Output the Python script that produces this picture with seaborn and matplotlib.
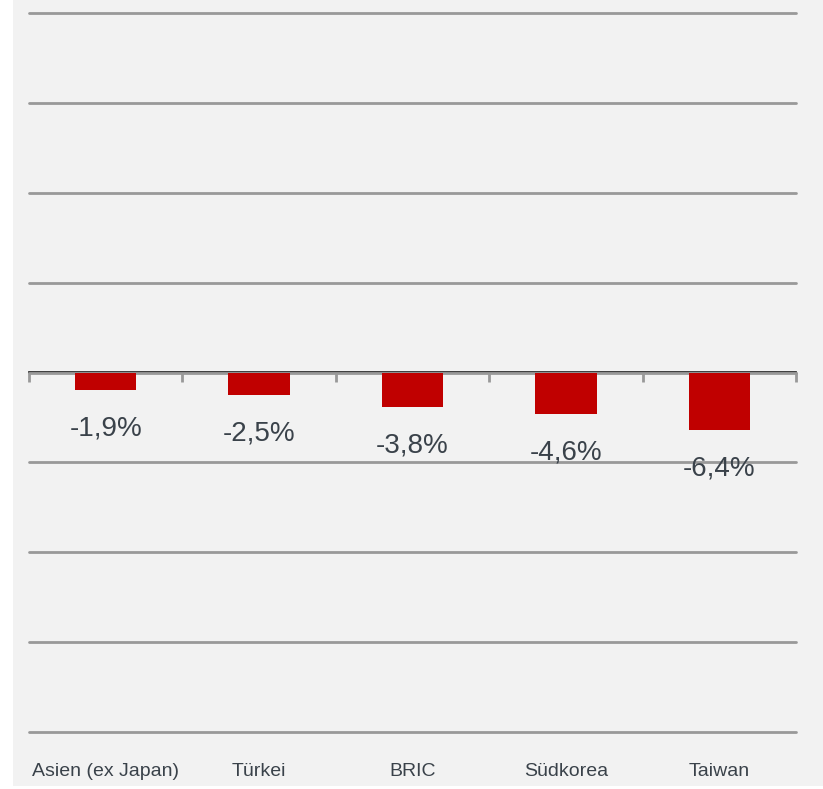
import matplotlib
matplotlib.use("Agg")
import matplotlib.pyplot as plt
import seaborn as sns
import pandas as pd
from matplotlib.patches import Rectangle

categories = ["Asien (ex Japan)", "Türkei", "BRIC", "Südkorea", "Taiwan"]
values = [-1.9, -2.5, -3.8, -4.6, -6.4]
value_labels = ["-1,9%", "-2,5%", "-3,8%", "-4,6%", "-6,4%"]

sns.set_theme(style="white")
plt.rcParams['font.family'] = ['Liberation Sans', 'DejaVu Sans']

W, H = 823, 789
fig = plt.figure(figsize=(W / 100, H / 100), dpi=100, facecolor="white")
fig.patches.append(Rectangle((13 / W, 3 / H), 1 - 13 / W, 1 - 3 / H,
                             transform=fig.transFigure, facecolor="#f2f2f2",
                             edgecolor="none", zorder=-10))
ax = fig.add_axes([29 / W, 1 - 732 / H, (796 - 29) / W, (732 - 13) / H])
ax.set_facecolor("none")
ax.set_zorder(5)

df = pd.DataFrame({"cat": categories, "val": values})
sns.barplot(data=df, x="cat", y="val", color="#c00000", width=0.4,
            saturation=1, ax=ax, zorder=3, linewidth=0, edgecolor="none")

ax.set_xlim(-0.5, len(categories) - 0.5)
ax.set_ylim(-40, 40)
ax.set_yticks(range(-40, 41, 10))
ax.set_yticklabels([])
ax.tick_params(axis="y", length=0)
ax.yaxis.grid(True, color="#999999", linewidth=2)
for gl in ax.get_ygridlines():
    gl.set_clip_on(False)
ax.set_axisbelow(True)
for s in ax.spines.values():
    s.set_visible(False)
ax.set_xlabel("")
ax.set_ylabel("")
ax.set_xticks(range(len(categories)))
ax.set_xticklabels(categories, fontsize=14, color="#3a424a")
ax.tick_params(axis="x", length=0, pad=22)

sec = ax.secondary_xaxis(0.5)
sec.set_xticks([i - 0.5 for i in range(len(categories) + 1)])
sec.set_xticklabels([])
sec.tick_params(axis="x", direction="in", length=7, width=2, color="#999999")
sec.spines["bottom"].set_color("#999999")
sec.spines["bottom"].set_linewidth(2)

for i, (v, lab) in enumerate(zip(values, value_labels)):
    ax.annotate(lab, xy=(i, v), xytext=(0, -28), textcoords="offset points",
                ha="center", va="center", fontsize=20, color="#3a424a")

fig.savefig("out.png", dpi=100, facecolor="white")
